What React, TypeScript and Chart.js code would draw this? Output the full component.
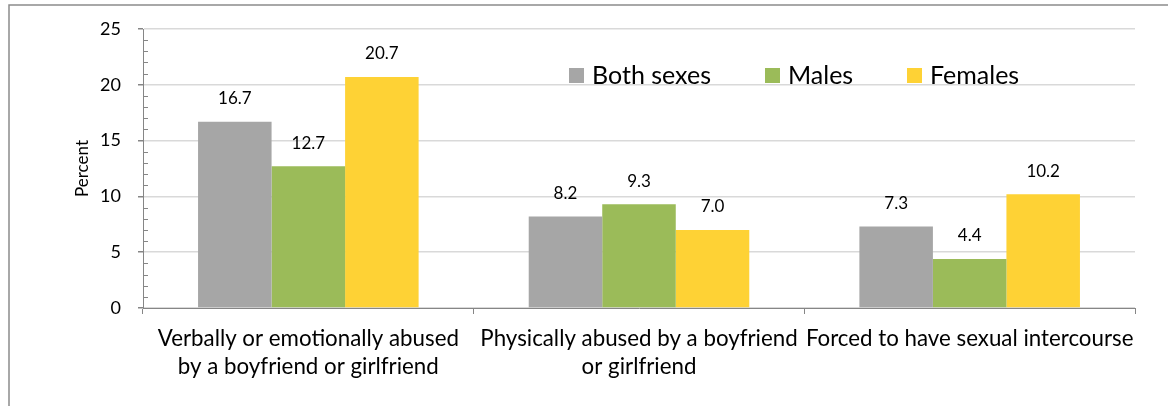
import React, { useEffect, useRef } from "react";
import { Chart, registerables } from "chart.js";

Chart.register(...registerables);

const categories: (string | string[])[] = [
  ["Verbally or emotionally abused", "by a boyfriend or girlfriend"],
  ["Physically abused by a boyfriend", "or girlfriend"],
  "Forced to have sexual intercourse",
];
const seriesNames = ["Both sexes", "Males", "Females"];
const bothSexes = [16.7, 8.2, 7.3];
const males = [12.7, 9.3, 4.4];
const females = [20.7, 7.0, 10.2];
const seriesColors = ["#a6a6a6", "#9bbb59", "#fed235"];
const yTicks = [0, 5, 10, 15, 20, 25];

const FONT = "Lato, 'Liberation Sans', sans-serif";

const framePlugin = {
  id: "frame",
  beforeDraw(chart: any) {
    const ctx = chart.ctx;
    ctx.save();
    ctx.fillStyle = "#ffffff";
    ctx.fillRect(0, 0, chart.width, chart.height);
    ctx.strokeStyle = "#8c8c8c";
    ctx.lineWidth = 1.5;
    ctx.beginPath();
    ctx.moveTo(9, chart.height);
    ctx.lineTo(9, 5);
    ctx.lineTo(chart.width, 5);
    ctx.stroke();
    ctx.restore();
  },
  afterDraw(chart: any) {
    const ctx = chart.ctx;
    const y = chart.scales.y;
    const area = chart.chartArea;
    ctx.save();
    ctx.strokeStyle = "#868686";
    ctx.lineWidth = 1;
    // minor ticks inside axis
    for (let v = 0; v <= 25; v += 1) {
      if (v % 5 === 0) continue;
      const py = Math.round(y.getPixelForValue(v)) + 0.5;
      ctx.beginPath();
      ctx.moveTo(area.left, py);
      ctx.lineTo(area.left + 5, py);
      ctx.stroke();
    }
    // legend
    ctx.font = `25px ${FONT}`;
    ctx.textBaseline = "middle";
    ctx.textAlign = "left";
    const lx = [569, 765, 907];
    const ly = 75;
    seriesNames.forEach((n, i) => {
      ctx.fillStyle = seriesColors[i];
      ctx.fillRect(lx[i], ly - 7, 15, 15);
      ctx.fillStyle = "#000000";
      ctx.fillText(n, lx[i] + 23, ly + 1);
    });
    // data labels
    ctx.font = `17px ${FONT}`;
    ctx.textAlign = "center";
    ctx.textBaseline = "middle";
    ctx.fillStyle = "#000000";
    chart.data.datasets.forEach((ds: any, di: number) => {
      const meta = chart.getDatasetMeta(di);
      meta.data.forEach((el: any, i: number) => {
        ctx.fillText(Number(ds.data[i]).toFixed(1), el.x, el.y - 23);
      });
    });
    ctx.restore();
  },
};

export default function App() {
  const ref = useRef<HTMLCanvasElement>(null);
  useEffect(() => {
    if (!ref.current) return;
    const chart = new Chart(ref.current, {
      type: "bar",
      data: {
        labels: categories,
        datasets: [
          { label: seriesNames[0], data: bothSexes, backgroundColor: seriesColors[0] },
          { label: seriesNames[1], data: males, backgroundColor: seriesColors[1] },
          { label: seriesNames[2], data: females, backgroundColor: seriesColors[2] },
        ],
      },
      options: {
        animation: false,
        responsive: false,
        layout: { padding: { top: 29, right: 33, left: 0, bottom: 0 } },
        datasets: { bar: { categoryPercentage: 0.667, barPercentage: 1.0 } },
        plugins: { legend: { display: false }, tooltip: { enabled: false } },
        scales: {
          x: {
            grid: {
              offset: true,
              drawOnChartArea: false,
              drawTicks: true,
              tickLength: 6,
              color: "#868686",
            },
            border: { color: "#868686", width: 1 },
            ticks: {
              color: "#000000",
              font: { family: FONT, size: 22.3, lineHeight: 1.26 },
              padding: 11,
              maxRotation: 0,
              autoSkip: false,
            },
            afterFit(scale: any) {
              scale.height = 98;
            },
          },
          y: {
            min: 0,
            max: 25,
            afterBuildTicks(scale: any) {
              scale.ticks = yTicks.map((v) => ({ value: v }));
            },
            grid: {
              color: "#d9d9d9",
              tickColor: "#868686",
              tickLength: 5,
              lineWidth: 1.5,
            },
            border: { color: "#868686", width: 1 },
            ticks: {
              color: "#000000",
              font: { family: FONT, size: 18 },
              padding: 17,
            },
            title: {
              display: true,
              text: "Percent",
              color: "#000000",
              font: { family: FONT, size: 17 },
              padding: { top: 72, bottom: 0 },
            },
            afterFit(scale: any) {
              scale.width = 143;
            },
          },
        },
      },
      plugins: [framePlugin],
    });
    return () => chart.destroy();
  }, []);
  return (
    <div style={{ position: "absolute", left: 0, top: 0, width: 1168, height: 406 }}>
      <canvas ref={ref} width={1168} height={406} style={{ display: "block" }} />
    </div>
  );
}
